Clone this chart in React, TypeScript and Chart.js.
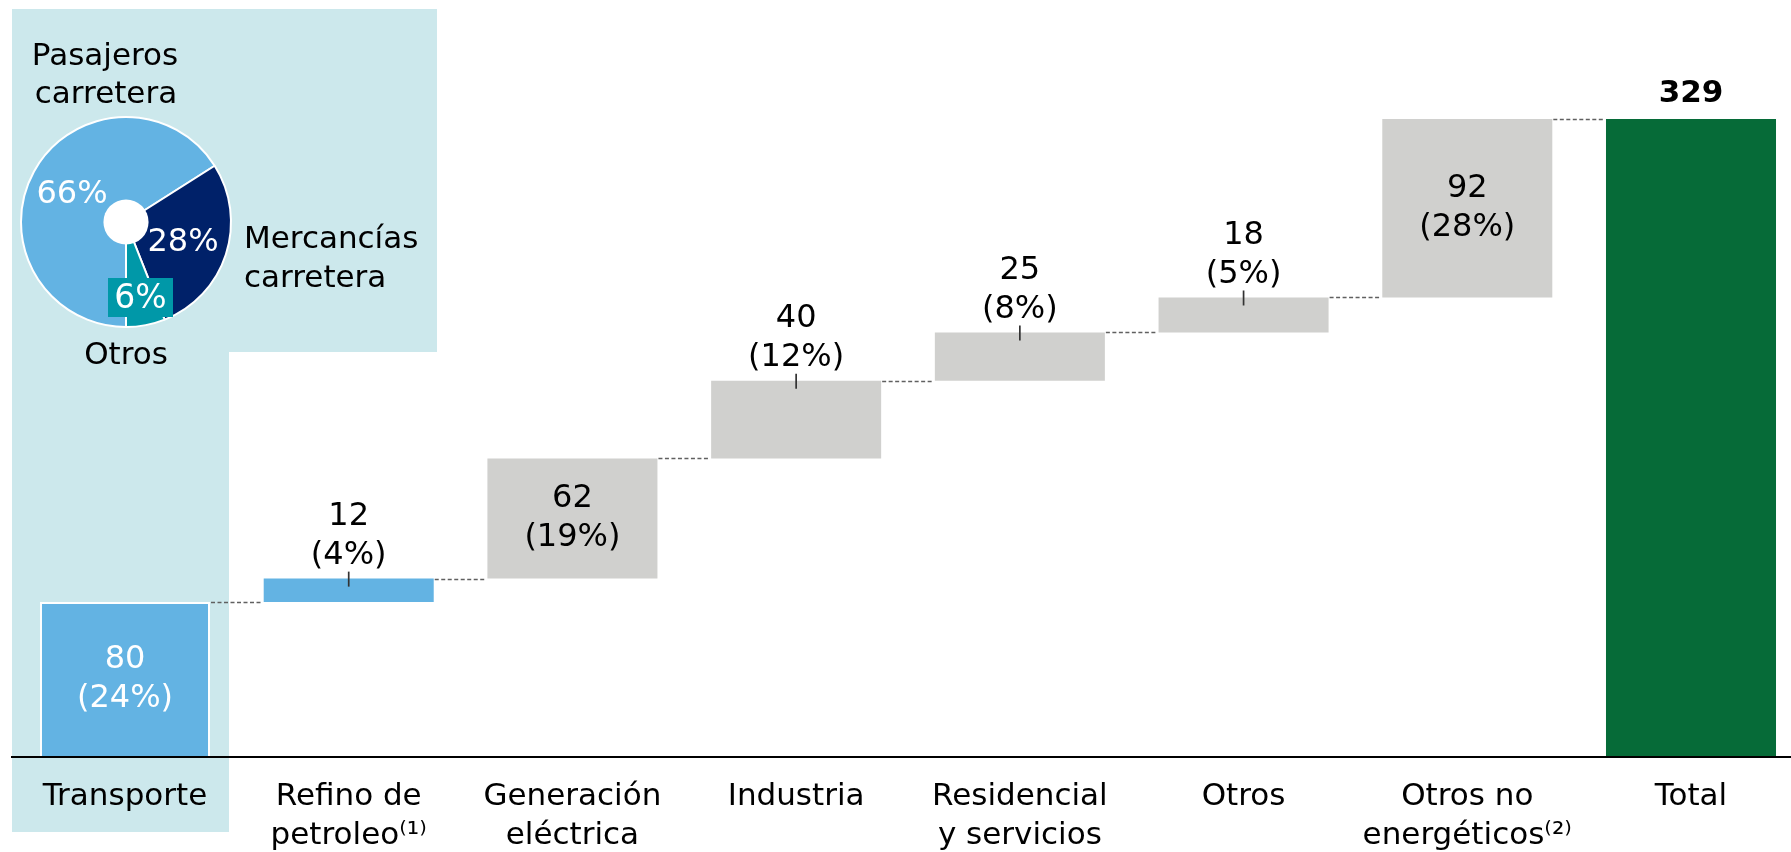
import React, { useEffect, useRef } from "react";
import { Chart, registerables } from "chart.js";

Chart.register(...registerables);

// ---------- data ----------
const categories: string[][] = [
  ["Transporte"],
  ["Refino de", "petroleo⁽¹⁾"],
  ["Generación", "eléctrica"],
  ["Industria"],
  ["Residencial", "y servicios"],
  ["Otros"],
  ["Otros no", "energéticos⁽²⁾"],
  ["Total"],
];
const stepValues = [80, 12, 62, 40, 25, 18, 92];
const stepShares = [24, 4, 19, 12, 8, 5, 28];
const totalValue = 329;
const yMax = 360;

const barColors = ["#63B3E3", "#63B3E3", "#D0D0CE", "#D0D0CE", "#D0D0CE", "#D0D0CE", "#D0D0CE", "#066B38"];
const labelColors = ["#FFFFFF", "#000000", "#000000", "#000000", "#000000", "#000000", "#000000", "#000000"];

const pieLabels = ["Pasajeros carretera", "Mercancías carretera", "Otros"];
const pieValues = [66, 28, 6];
const pieColors = ["#63B3E3", "#002169", "#0098A8"];

const FONT = '"DejaVu Sans", Verdana, sans-serif';
const PANEL = "#CCE8EC";

// ---------- derived floating bars ----------
const starts: number[] = [];
{
  let acc = 0;
  for (const v of stepValues) {
    starts.push(acc);
    acc += v;
  }
}
const floatData: [number, number][] = [
  ...stepValues.map((v, i) => [starts[i], starts[i] + v] as [number, number]),
  [0, totalValue],
];

const panelPlugin = {
  id: "panel",
  beforeDraw(chart: any) {
    const ctx = chart.ctx;
    ctx.save();
    ctx.fillStyle = PANEL;
    ctx.beginPath();
    ctx.moveTo(12, 9);
    ctx.lineTo(437, 9);
    ctx.lineTo(437, 352);
    ctx.lineTo(229, 352);
    ctx.lineTo(229, 832);
    ctx.lineTo(12, 832);
    ctx.closePath();
    ctx.fill();
    ctx.restore();
  },
};

const annotPlugin = {
  id: "annot",
  afterDatasetsDraw(chart: any) {
    const ctx = chart.ctx;
    const meta = chart.getDatasetMeta(0);
    const ys = chart.scales.y;
    const bars = meta.data;
    ctx.save();
    // connectors
    ctx.strokeStyle = "#606060";
    ctx.lineWidth = 1.5;
    ctx.setLineDash([4, 2.5]);
    for (let i = 0; i < bars.length - 1; i++) {
      const a = bars[i];
      const b = bars[i + 1];
      const level = floatData[i][1];
      const y = Math.round(ys.getPixelForValue(level)) + 0.5;
      ctx.beginPath();
      ctx.moveTo(a.x + a.width / 2 + 1, y);
      ctx.lineTo(b.x - b.width / 2 - 1, y);
      ctx.stroke();
    }
    ctx.setLineDash([]);
    // axis line
    const y0 = ys.getPixelForValue(0);
    ctx.strokeStyle = "#000";
    ctx.lineWidth = 2;
    ctx.beginPath();
    ctx.moveTo(11, y0);
    ctx.lineTo(chart.width, y0);
    ctx.stroke();
    // labels
    ctx.textAlign = "center";
    ctx.textBaseline = "middle";
    ctx.font = `32px ${FONT}`;
    const lh = 39;
    for (let i = 0; i < stepValues.length; i++) {
      const bar = bars[i];
      const top = Math.min(bar.y, bar.base);
      const bottom = Math.max(bar.y, bar.base);
      const h = bottom - top;
      const l1 = String(stepValues[i]);
      const l2 = `(${stepShares[i]}%)`;
      if (h > 100) {
        const cy = (top + bottom) / 2;
        ctx.fillStyle = labelColors[i];
        ctx.fillText(l1, bar.x, cy - lh / 2);
        ctx.fillText(l2, bar.x, cy + lh / 2);
      } else {
        ctx.fillStyle = "#000";
        ctx.fillText(l2, bar.x, top - 23);
        ctx.fillText(l1, bar.x, top - 23 - lh);
        ctx.strokeStyle = "#333";
        ctx.lineWidth = 1.7;
        ctx.beginPath();
        ctx.moveTo(bar.x, top - 7);
        ctx.lineTo(bar.x, top + 8);
        ctx.stroke();
      }
    }
    const tb = bars[bars.length - 1];
    ctx.fillStyle = "#000";
    ctx.font = `bold 31px ${FONT}`;
    ctx.fillText(String(totalValue), tb.x, Math.min(tb.y, tb.base) - 25);
    ctx.restore();
  },
};

const pieTextPlugin = {
  id: "pieText",
  afterDraw(chart: any) {
    const ctx = chart.ctx;
    const arc = chart.getDatasetMeta(0).data[0];
    const cx = arc.x;
    const cy = arc.y;
    const r = arc.outerRadius;
    ctx.save();
    // white hole
    ctx.fillStyle = "#FFFFFF";
    ctx.beginPath();
    ctx.arc(cx, cy, r * 0.215, 0, Math.PI * 2);
    ctx.fill();
    // teal box behind small share
    ctx.fillStyle = pieColors[2];
    ctx.fillRect(108, 278, 65, 39);
    ctx.textBaseline = "middle";
    ctx.textAlign = "center";
    ctx.font = `32px ${FONT}`;
    ctx.fillStyle = "#FFFFFF";
    ctx.fillText(`${pieValues[0]}%`, 72, 195);
    ctx.fillText(`${pieValues[1]}%`, 183, 243);
    ctx.font = `33px ${FONT}`;
    ctx.fillText(`${pieValues[2]}%`, 140.5, 299);
    ctx.font = `31px ${FONT}`;
    ctx.fillStyle = "#000000";
    const p = pieLabels[0].split(" ");
    ctx.fillText(p[0], 105, 57);
    ctx.fillText(p[1], 106, 95);
    ctx.fillText(pieLabels[2], 126, 356);
    ctx.textAlign = "left";
    const m = pieLabels[1].split(" ");
    ctx.fillText(m[0], 244, 240);
    ctx.fillText(m[1], 244, 279);
    ctx.restore();
  },
};

export default function App() {
  const mainRef = useRef<HTMLCanvasElement>(null);
  const pieRef = useRef<HTMLCanvasElement>(null);

  useEffect(() => {
    document.body.style.margin = "0";
    document.body.style.overflow = "hidden";
    const main = new Chart(mainRef.current!, {
      type: "bar",
      data: {
        labels: categories as any,
        datasets: [
          {
            data: floatData as any,
            backgroundColor: barColors,
            borderColor: barColors.map((c, i) => (i === 0 ? "#FFFFFF" : c)),
            borderWidth: barColors.map((_, i) => (i === 0 ? 2 : 0)),
            borderSkipped: "start",
            categoryPercentage: 1,
            barPercentage: 0.76,
            clip: false as any,
          },
        ],
      },
      options: {
        responsive: false,
        animation: false,
        devicePixelRatio: 1,
        layout: { padding: { left: 125, right: 100, top: 59, bottom: 0 } },
        plugins: { legend: { display: false }, tooltip: { enabled: false } },
        scales: {
          x: {
            type: "category",
            offset: false,
            grid: { display: false, drawTicks: false },
            border: { display: false },
            ticks: {
              color: "#000",
              font: { family: FONT, size: 31, lineHeight: 1.26 },
              padding: 20,
              maxRotation: 0,
              autoSkip: false,
            },
            afterFit: (s: any) => {
              s.height = 95;
            },
          },
          y: { display: false, min: 0, max: yMax },
        },
      },
      plugins: [panelPlugin, annotPlugin],
    });
    const pie = new Chart(pieRef.current!, {
      type: "pie",
      data: {
        labels: pieLabels,
        datasets: [
          {
            data: pieValues,
            backgroundColor: pieColors,
            borderColor: "#FFFFFF",
            borderWidth: 2,
          },
        ],
      },
      options: {
        responsive: false,
        animation: false,
        devicePixelRatio: 1,
        rotation: 180,
        layout: { padding: { left: 20, top: 116, right: 218, bottom: 52 } },
        plugins: { legend: { display: false }, tooltip: { enabled: false } },
      },
      plugins: [pieTextPlugin],
    });
    return () => {
      main.destroy();
      pie.destroy();
    };
  }, []);

  return (
    <div style={{ position: "relative", width: 1791, height: 852, background: "#FFFFFF" }}>
      <canvas ref={mainRef} width={1791} height={852} style={{ position: "absolute", left: 0, top: 0 }} />
      <canvas ref={pieRef} width={450} height={380} style={{ position: "absolute", left: 0, top: 0 }} />
    </div>
  );
}
